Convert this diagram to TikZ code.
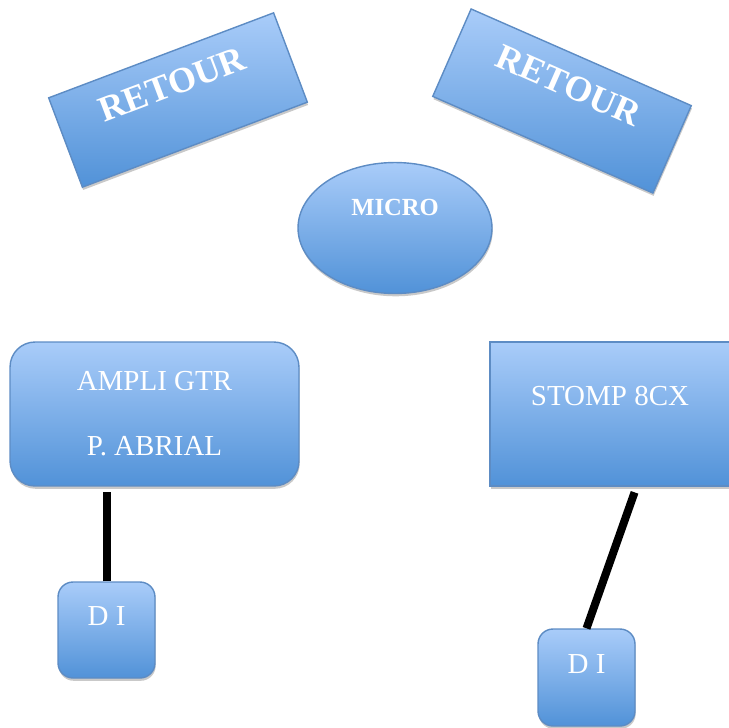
\documentclass[tikz,border=0pt]{standalone}
\usepackage{fontspec}
\setmainfont{Liberation Serif}
\usetikzlibrary{shapes.geometric,shadows,calc}
\definecolor{boxtop}{HTML}{A9CCF9}
\definecolor{boxbot}{HTML}{5192D8}
\definecolor{boxline}{HTML}{5D8CC4}
\begin{document}
\begin{tikzpicture}[x=0.02cm, y=-0.02cm,
  box/.style={draw=boxline, line width=0.8pt, top color=boxtop, bottom color=boxbot,
    text=white, inner sep=0pt,
    drop shadow={shadow xshift=0.4pt, shadow yshift=-1.6pt, opacity=0.3, fill=black!70}},
  retour/.style={box, minimum width=4.81cm, minimum height=1.91cm,
    font=\bfseries\fontsize{20.5}{24}\selectfont, text height=1.45ex, text depth=0.44cm},
  cable/.style={line width=0.16cm, black}]
  \useasboundingbox (0,0) rectangle (729,727);
  \node (retourL) [retour, rotate=20.7] at (178,100) {RETOUR};
  \node (retourR) [retour, rotate=-23.7] at (562,101) {RETOUR};
  \node (micro) [box, ellipse, minimum width=3.88cm, minimum height=2.62cm,
    font=\bfseries\fontsize{14}{17}\selectfont, text height=1.45ex, text depth=0.72cm] at (395,228) {MICRO};
  \node (ampli) [box, rounded corners=0.5cm, minimum width=5.78cm, minimum height=2.88cm,
    align=center, font=\fontsize{16.5}{36.9}\selectfont] at (154.5,414) {AMPLI GTR\\P. ABRIAL};
  \node (stomp) [box, minimum width=4.8cm, minimum height=2.88cm,
    font=\fontsize{16.5}{20}\selectfont, text height=1.45ex, text depth=0.56cm] at (610,414) {STOMP 8CX};
  \node (diA) [box, rounded corners=0.3cm, minimum width=1.94cm, minimum height=1.92cm,
    font=\fontsize{16.5}{20}\selectfont, text height=1.45ex, text depth=0.4cm] at (106.5,630) {D I};
  \node (diB) [box, rounded corners=0.3cm, minimum width=1.94cm, minimum height=1.94cm,
    font=\fontsize{16.5}{20}\selectfont, text height=1.45ex, text depth=0.4cm] at (586.5,677.5) {D I};
  \path[cable] (diA.north) edge[shorten >=0.1cm] (diA.north |- ampli.south)
               (diB.north) edge[shorten >=0.12cm] ($(stomp.south)!0.22!(stomp.south east)$)
               ;
\end{tikzpicture}
\end{document}
